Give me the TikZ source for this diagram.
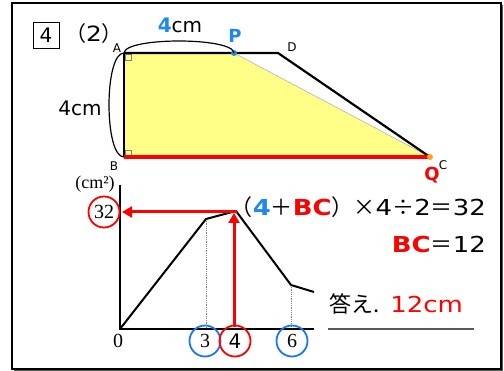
\documentclass[tikz,border=0pt]{standalone}
\usepackage{fontspec}
\setmainfont{DejaVu Sans}
\newfontfamily\serifnum{Liberation Serif}
\newfontfamily\jpfont{Noto Sans CJK JP}
\newfontfamily\eqfont[FakeStretch=1.18]{DejaVu Sans}
\usetikzlibrary{positioning, arrows.meta}
\definecolor{ptblue}{HTML}{1E88F0}
\definecolor{ringblue}{HTML}{1A75FF}
\definecolor{figyellow}{HTML}{FFFF88}
\definecolor{qorange}{HTML}{FFA020}
\definecolor{ansred}{HTML}{FF0000}
\tikzset{
  vertexlabel/.style={font=\fontsize{12}{13}\selectfont, inner sep=0pt},
  bigtext/.style={font=\fontsize{20}{22}\selectfont, inner sep=0pt},
  eqtext/.style={font=\eqfont\fontsize{22}{24}\selectfont, inner sep=0pt},
  ticklabel/.style={font=\serifnum\fontsize{20}{22}\selectfont, inner sep=0pt},
  ring/.style={circle, line width=1.8pt, minimum size=31pt, inner sep=0pt},
  redarrow/.style={ansred, line width=3pt, -{Triangle[length=10pt,width=11pt]}},
  guide/.style={densely dotted, gray, line width=0.8pt},
}

\begin{document}
\begin{tikzpicture}[x=1pt, y=-1pt]
  \useasboundingbox (0,0) rectangle (504,371);
  % frame with shadow
  \coordinate (frameNW) at (12,3);
  \coordinate (frameSE) at (501,369);
  \draw[line width=1.2pt] (frameNW) rectangle (frameSE);
  \draw[gray!70!black, line width=1.2pt] (502.5,5) -- (502.5,370.5) -- (14,370.5);

  % heading
  \node[draw, line width=1pt, minimum size=26pt, bigtext] (qnum) at (46,35.5) {4};
  \node[font=\eqfont\fontsize{21}{23}\selectfont, inner sep=0pt, anchor=base west] (qsub) at (65,42) {{\jpfont （}2{\jpfont \makebox[0.4em][l]{）}}};

  % trapezoid ABCD
  \coordinate (A) at (124,53);
  \coordinate (B) at (124,157);
  \coordinate (C) at (430,157);
  \coordinate (D) at (278,53);
  \coordinate (P) at (234,53);
  \fill[figyellow] (A) -- (P) -- (C) -- (B) -- cycle;
  \draw[gray!60, line width=0.6pt] (P) -- (C);
  \draw[gray, line width=0.5pt] (125,54) rectangle (131,60);
  \draw[gray, line width=0.5pt] (125,150) rectangle (131,156);
  \draw[line width=2.2pt] (A) -- (D) -- (C);
  \draw[line width=1.5pt] (A) -- (B);
  \draw[ansred, line width=4pt] (B) -- (C);
  \fill[ptblue] (P) circle (3pt);
  \fill[qorange] (C) circle (3pt);

  % length marks
  \draw[line width=1.2pt] (A) .. controls (125,37) and (233,37) .. (P);
  \draw[line width=1.2pt] (A) .. controls (104,53) and (104,157) .. (B);
  \node[bigtext] (lenAP) at (180,25) {{\bfseries\color{ptblue}4}cm};
  \node[bigtext] (lenAB) at (80,108) {4cm};

  % vertex labels
  \node[vertexlabel] (labA) at (117,48) {A};
  \node[vertexlabel] (labB) at (114,166) {B};
  \node[vertexlabel] (labC) at (443,165) {C};
  \node[vertexlabel] (labD) at (292,47) {D};
  \node[font=\bfseries\fontsize{18}{20}\selectfont, text=ptblue, inner sep=0pt] (labP) at (235,36) {P};
  \node[font=\bfseries\fontsize{18}{20}\selectfont, text=ansred, inner sep=0pt] (labQ) at (432,175) {Q};

  % graph
  \coordinate (O) at (120,329);
  \coordinate (ytop) at (120,185);
  \coordinate (xend) at (314,329);
  \coordinate (g3) at (206,219);
  \coordinate (g4) at (236,211);
  \coordinate (g6) at (291,285);
  \coordinate (gend) at (314,292);
  \draw[guide] (g3) -- (g3 |- O);
  \draw[guide] (g6) -- (g6 |- O);
  \draw[line width=1.5pt] (ytop) -- (O) -- (xend);
  \draw[line width=2pt] (O) -- (g3) -- (g4) -- (g6) -- (gend);
  \draw[redarrow] (234,327) -- (234,213);
  \draw[redarrow] (237,212) -- (122,212);

  \node[font=\serifnum\fontsize{18}{20}\selectfont, inner sep=0pt] (unit) at (95,184) {(cm²)};
  \node[ticklabel] (zero) at (118,341) {0};
  \node[ring, draw=ansred, ticklabel] (v32) at (104,212) {32};
  \node[ring, draw=ringblue, ticklabel] (t3) at (205,341) {3};
  \node[ring, draw=ansred, font=\fontsize{20}{22}\selectfont] (t4) at (235,341) {4};
  \node[ring, draw=ringblue, ticklabel] (t6) at (292,341) {6};

  % working and answer
  \node[eqtext, anchor=base east] (eqarea) at (486,216) {{\jpfont （}{\bfseries\color{ptblue}4}{\jpfont ＋}{\bfseries\color{ansred}BC}{\jpfont ）×}4{\jpfont ÷}2{\jpfont ＝}32};
  \node[eqtext, anchor=base east] (eqbc) at (486,253) {{\bfseries\color{ansred}BC}{\jpfont ＝}12};
  \node[eqtext, anchor=base west] (answer) at (329,313) {{\jpfont 答え.} {\color{ansred}12cm}};
  \coordinate (ulL) at (328,329);
  \coordinate (ulR) at (474,329);
  \draw[gray!70!black, line width=1.8pt] (ulL) -- (ulR);
\end{tikzpicture}
\end{document}
